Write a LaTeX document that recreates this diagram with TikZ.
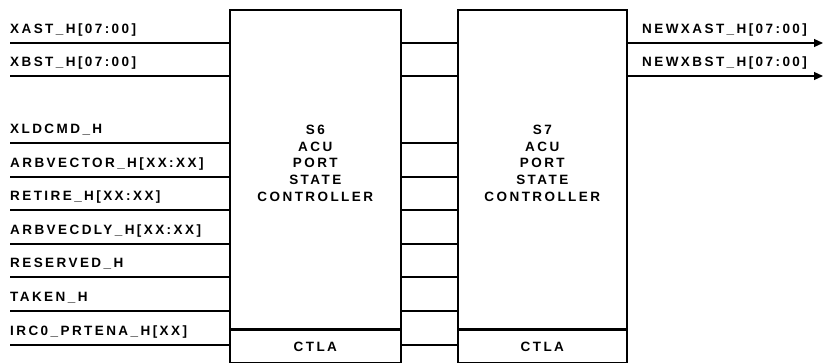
\documentclass[tikz,border=0pt]{standalone}
\usepackage{fontspec}
\setmainfont{Liberation Sans}[LetterSpace=18]
\usetikzlibrary{arrows.meta,positioning}
\tikzset{
    unit/.style = {
        rectangle, draw, line width=1.6pt,
        minimum width=171pt, inner sep=0pt
    },
    title/.style = {align=center, inner sep=0pt,
        font=\bfseries\fontsize{13.5}{16.8}\selectfont},
    sig/.style  = {draw, line width=1.2pt},
    outsig/.style  = {sig, -{Triangle[length=9pt,width=8pt]}},
    siglabel/.style = {anchor=base west, inner sep=0pt,
        font=\bfseries\fontsize{13.5}{14}\selectfont}
}

\begin{document}
\begin{tikzpicture}[x=1pt, y=-1pt]
  \useasboundingbox (0,0) rectangle (823,362);

  % the two state controllers
  \node [unit, minimum height=319pt, anchor=north west] (s6) at (229,9) {};
  \node [unit, minimum height=32pt, below=0pt of s6, title] (ctla6) {CTLA};
  \node [title, yshift=6pt] (s6name) at (s6.center)
        {S6\\ACU\\PORT\\STATE\\CONTROLLER};
  \node [unit, minimum width=169pt, minimum height=319pt, anchor=north west]
        (s7) at (457,9) {};
  \node [unit, minimum width=169pt, minimum height=32pt, below=0pt of s7,
         title] (ctla7) {CTLA};
  \node [title, yshift=6pt] (s7name) at (s7.center)
        {S7\\ACU\\PORT\\STATE\\CONTROLLER};

  % inputs into S6 and the links from S6 to S7
  \foreach \y/\name [count=\i] in {
      43/XAST\_H[07:00], 76/XBST\_H[07:00], 143/XLDCMD\_H,
      177/ARBVECTOR\_H[XX:XX], 210/RETIRE\_H[XX:XX],
      244/ARBVECDLY\_H[XX:XX], 277/RESERVED\_H, 311/TAKEN\_H,
      345/IRC0\_PRTENA\_H[XX]} {
    \coordinate (in\i) at (10,\y);
    \path [sig] (in\i) -- (in\i -| s6.west);
    \node [siglabel] (lab\i) at (10,\y-10) {\name};
    \path [sig] (s6.east |- in\i) -- (s7.west |- in\i);
  }

  % outputs from S7
  \foreach \y/\name [count=\i] in {
      43/NEWXAST\_H[07:00], 76/NEWXBST\_H[07:00]} {
    \coordinate (out\i) at (823,\y);
    \path [outsig] (s7.east |- out\i) -- (out\i);
    \node [siglabel] (olab\i) at (642,\y-10) {\name};
  }
\end{tikzpicture}
\end{document}
